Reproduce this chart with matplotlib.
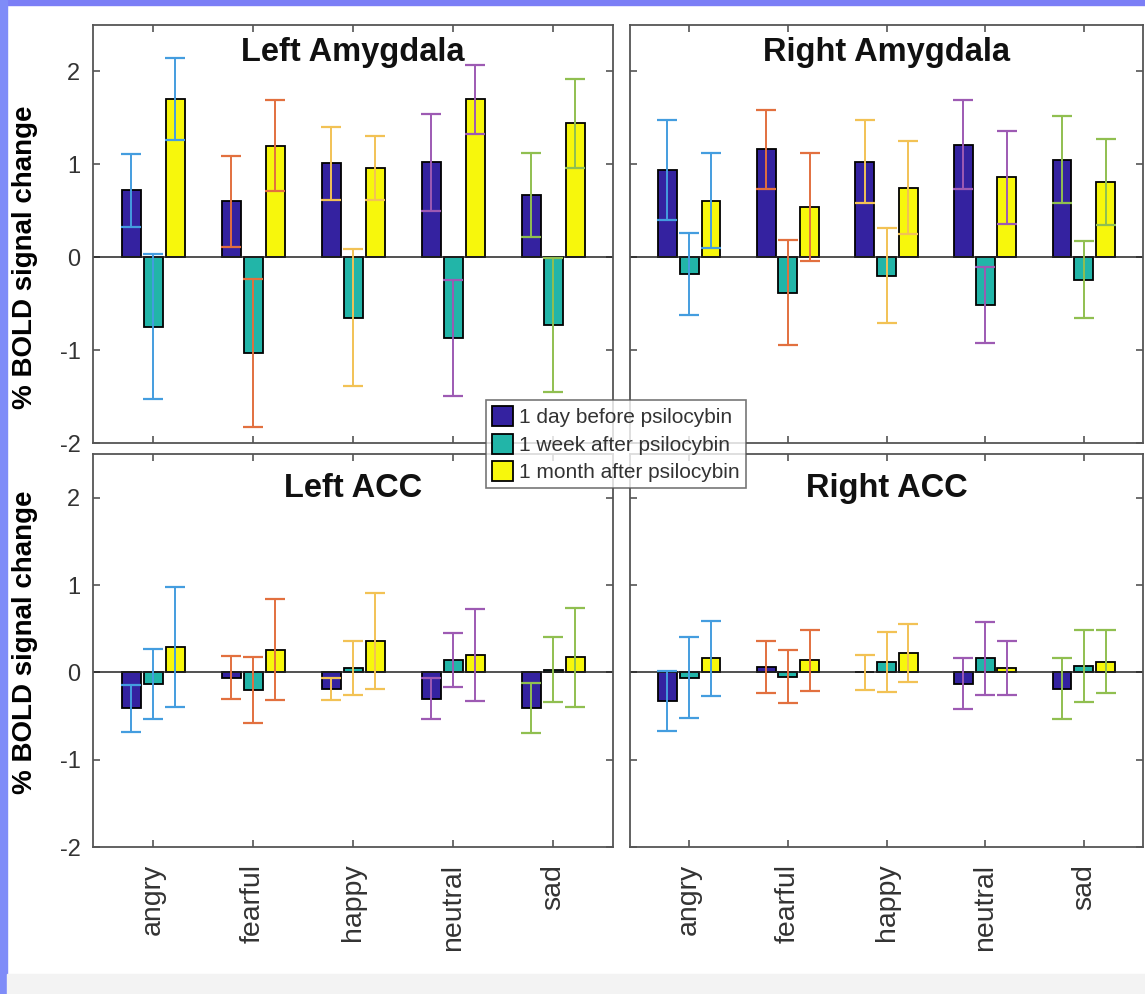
import matplotlib
matplotlib.use('Agg')
import matplotlib.pyplot as plt
from matplotlib.patches import Rectangle
import numpy as np

plt.rcParams['font.family'] = ['Liberation Sans', 'DejaVu Sans']
plt.rcParams['axes.unicode_minus'] = False

emotions = ['angry', 'fearful', 'happy', 'neutral', 'sad']
sessions = ['1 day before psilocybin', '1 week after psilocybin', '1 month after psilocybin']
titles = ['Left Amygdala', 'Right Amygdala', 'Left ACC', 'Right ACC']

# mean % BOLD change, one row per session (before, 1 week, 1 month)
left_amy = [[0.72, 0.60, 1.01, 1.02, 0.67],
            [-0.75, -1.03, -0.65, -0.87, -0.73],
            [1.70, 1.20, 0.96, 1.70, 1.44]]
left_amy_err = [[0.39, 0.49, 0.39, 0.52, 0.45],
                [0.78, 0.80, 0.74, 0.62, 0.72],
                [0.44, 0.49, 0.34, 0.37, 0.48]]

right_amy = [[0.94, 1.16, 1.03, 1.21, 1.05],
             [-0.18, -0.38, -0.20, -0.51, -0.24],
             [0.61, 0.54, 0.75, 0.86, 0.81]]
right_amy_err = [[0.54, 0.43, 0.45, 0.48, 0.47],
                 [0.44, 0.57, 0.51, 0.41, 0.41],
                 [0.51, 0.58, 0.50, 0.50, 0.46]]

left_acc = [[-0.41, -0.06, -0.19, -0.30, -0.41],
            [-0.13, -0.20, 0.05, 0.14, 0.03],
            [0.29, 0.26, 0.36, 0.20, 0.17]]
left_acc_err = [[0.27, 0.25, 0.13, 0.24, 0.29],
                [0.40, 0.38, 0.31, 0.31, 0.37],
                [0.69, 0.58, 0.55, 0.53, 0.57]]

right_acc = [[-0.33, 0.06, 0.0, -0.13, -0.19],
             [-0.06, -0.05, 0.12, 0.16, 0.07],
             [0.16, 0.14, 0.22, 0.05, 0.12]]
right_acc_err = [[0.34, 0.30, 0.20, 0.29, 0.35],
                 [0.46, 0.30, 0.345, 0.42, 0.41],
                 [0.43, 0.35, 0.33, 0.31, 0.36]]

bar_colors = ['#3422a0', '#22b5a8', '#f7f70c']
err_colors = ['#449ddf', '#e2703f', '#f2c255', '#9d5ab3', '#90bf50']  # one per emotion
offsets = [-0.22, 0.0, 0.22]

W, H = 1145, 994
fig = plt.figure(figsize=(W / 100, H / 100), dpi=100, facecolor='white')

# frame decoration of the screenshot
fig.patches.append(Rectangle((0, 1 - 5 / H), 1, 5 / H, transform=fig.transFigure, color='#7b7ef6', zorder=0))
fig.patches.append(Rectangle((0, 0), 7 / W, 1, transform=fig.transFigure, color='#7f8cf8', zorder=0))
fig.patches.append(Rectangle((7 / W, 0), 1, 20 / H, transform=fig.transFigure, color='#f3f3f3', zorder=0))

def box(x0, y0, x1, y1):
    return [x0 / W, 1 - y1 / H, (x1 - x0) / W, (y1 - y0) / H]

boxes = [box(93, 25, 613, 443), box(630, 25, 1143, 443),
         box(93, 454, 613, 847), box(630, 454, 1143, 847)]
data = [(left_amy, left_amy_err), (right_amy, right_amy_err),
        (left_acc, left_acc_err), (right_acc, right_acc_err)]
title_y = [0.935, 0.935, 0.913, 0.913]
label_y = [0.445, None, 0.52, None]

x = np.arange(1, 6)
handles = []
for i, (pos, (means, errs)) in enumerate(zip(boxes, data)):
    ax = fig.add_axes(pos)
    for s in range(3):
        b = ax.bar(x + offsets[s], means[s], width=0.19, color=bar_colors[s],
                   edgecolor='black', linewidth=1.3, zorder=2)
        if i == 0:
            handles.append(b)
        for k in range(5):
            ax.errorbar(x[k] + offsets[s], means[s][k], yerr=errs[s][k], fmt='none',
                        ecolor=err_colors[k], elinewidth=1.4, capsize=7, capthick=1.6, zorder=3)
    ax.axhline(0, color='#222222', linewidth=1.1, zorder=2.5)
    ax.set_xlim(0.4, 5.6)
    ax.set_ylim(-2, 2.5)
    ax.set_xticks(x)
    ax.set_yticks([-2, -1, 0, 1, 2])
    ax.tick_params(direction='in', top=True, right=True, length=5, width=1.2,
                   color='#555555', labelsize=17, labelcolor='#333333')
    ax.tick_params(axis='y', pad=9)
    ax.tick_params(axis='x', pad=12)
    for sp in ax.spines.values():
        sp.set_color('#555555')
        sp.set_linewidth(1.3)
    if i >= 2:
        ax.set_xticklabels(emotions, rotation=90, fontsize=20.5)
    else:
        ax.set_xticklabels([])
    if i % 2 == 0:
        ax.set_ylabel('% BOLD signal change', fontsize=20, fontweight='bold')
        ax.yaxis.set_label_coords((38 - 93) / 520, label_y[i])
    else:
        ax.set_yticklabels([])
    ax.text(0.5, title_y[i], titles[i], transform=ax.transAxes, ha='center', va='center',
            fontsize=23.5, fontweight='bold', color='#111111')

leg = fig.legend(handles, sessions, loc='upper left', bbox_to_anchor=(486 / W, 1 - 400 / H),
                 borderaxespad=0, fontsize=15, frameon=True, fancybox=False,
                 edgecolor='#555555', handlelength=1.0, handleheight=1.1, handletextpad=0.3,
                 borderpad=0.3, labelspacing=0.3)
leg.get_frame().set_linewidth(1.2)
for t in leg.get_texts():
    t.set_color('#333333')

fig.savefig('out.png', dpi=100, facecolor=fig.get_facecolor())
